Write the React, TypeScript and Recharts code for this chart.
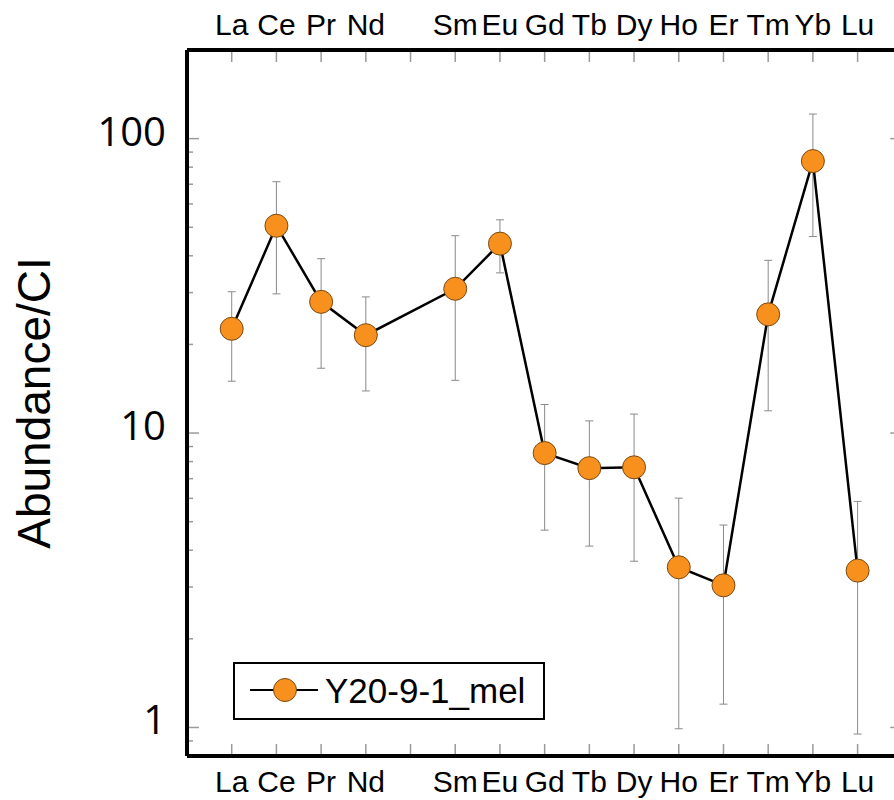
import React from 'react';
import { ComposedChart, Line, XAxis, YAxis, ErrorBar, Legend } from 'recharts';

// REE order (Pm slot kept empty so Nd -> Sm spacing matches the plot)
const elements = ['La', 'Ce', 'Pr', 'Nd', 'Pm', 'Sm', 'Eu', 'Gd', 'Tb', 'Dy', 'Ho', 'Er', 'Tm', 'Yb', 'Lu'];
const tickLabels = ['La', 'Ce', 'Pr', 'Nd', '', 'Sm', 'Eu', 'Gd', 'Tb', 'Dy', 'Ho', 'Er', 'Tm', 'Yb', 'Lu'];

const abundance = [22.6, 50.6, 27.9, 21.5, null, 30.9, 44.0, 8.55, 7.6, 7.65, 3.5, 3.04, 25.3, 83.9, 3.41];
const upper = [30.2, 71.4, 39.1, 29.0, null, 46.8, 53.0, 12.5, 11.0, 11.6, 6.01, 4.87, 38.6, 121.2, 5.86];
const lower = [15.0, 29.7, 16.6, 13.9, null, 15.1, 35.0, 4.68, 4.13, 3.67, 0.99, 1.2, 11.9, 46.5, 0.95];

const sampleName = 'Y20-9-1_mel';

const yMajor = [1, 10, 100];
const yTicks = [0.9, 1, 2, 3, 4, 5, 6, 7, 8, 9, 10, 20, 30, 40, 50, 60, 70, 80, 90, 100];
const xTicks = elements.map((_, i) => i + 1);

const ORANGE = '#F8901E';
const TICK_GREY = '#9a9a9a';
const FONT = '"Liberation Sans", Arial, Helvetica, sans-serif';

const data = elements.map((el, i) => {
  const v = abundance[i];
  return {
    el,
    pos: i + 1,
    v,
    err: v == null ? null : [v - (lower[i] as number), (upper[i] as number) - v],
  };
});

const XTick = (props: any) => {
  const { x, y, payload, side } = props;
  const label = tickLabels[payload.value - 1] ?? '';
  const dir = side === 'top' ? 1 : -1;
  return (
    <g>
      <line x1={x} x2={x} y1={y + dir * 2} y2={y + dir * 12} stroke={TICK_GREY} strokeWidth={1.5} />
      <text
        x={x}
        y={side === 'top' ? y - 15 : y + 36}
        textAnchor="middle"
        fontSize={30}
        fontFamily={FONT}
        fill="#000"
      >
        {label}
      </text>
    </g>
  );
};

const YTick = (props: any) => {
  const { x, y, payload, side } = props;
  const major = yMajor.includes(payload.value);
  const len = major ? 12 : 6;
  const dir = side === 'left' ? 1 : -1;
  return (
    <g>
      <line x1={x + dir * 2} x2={x + dir * len} y1={y} y2={y} stroke={TICK_GREY} strokeWidth={1.5} />
      {major && side === 'left' && (
        <text x={x - 21} y={y + 7} textAnchor="end" fontSize={40} fontFamily='"Open Sans", sans-serif' fill="#000">
          {payload.value}
        </text>
      )}
    </g>
  );
};

const AxisTitle = (props: any) => {
  const vb = props.viewBox || {};
  const cx = 50;
  const cy = vb.y + vb.height / 2;
  return (
    <text
      x={cx}
      y={cy}
      transform={`rotate(-90, ${cx}, ${cy})`}
      textAnchor="middle"
      fontSize={46}
      fontFamily={FONT}
      fill="#000"
    >
      Abundance/CI
    </text>
  );
};

const LegendBox = ({ payload }: any) => (
  <div
    style={{
      width: 308,
      height: 54,
      border: '2px solid #000',
      background: '#fff',
      display: 'flex',
      alignItems: 'center',
    }}
  >
    <svg width={90} height={54} style={{ flex: 'none' }}>
      <line x1={15} x2={83} y1={26} y2={26} stroke="#000" strokeWidth={2} />
      <circle cx={50} cy={26} r={11.5} fill={ORANGE} stroke="#7a4a14" strokeWidth={1} />
    </svg>
    <span style={{ fontSize: 35, fontFamily: FONT, color: '#000', lineHeight: '54px' }}>
      {payload && payload[0] ? payload[0].value : sampleName}
    </span>
  </div>
);

export default function App() {
  return (
    <div style={{ position: 'absolute', left: 0, top: 0, width: 894, height: 800, overflow: 'hidden', background: '#fff' }}>
      <ComposedChart
        width={910}
        height={800}
        data={data}
        margin={{ top: 49, left: 186, right: 6.7, bottom: 43 }}
      >
        <XAxis
          xAxisId="bottom"
          dataKey="pos"
          type="number"
          domain={[0, 16]}
          ticks={xTicks}
          allowDataOverflow
          height={1}
          tickSize={0}
          tickMargin={0}
          tickLine={false}
          axisLine={{ stroke: '#000', strokeWidth: 4 }}
          tick={(p: any) => <XTick {...p} side="bottom" />}
          interval={0}
        />
        <XAxis
          xAxisId="top"
          orientation="top"
          dataKey="pos"
          type="number"
          domain={[0, 16]}
          ticks={xTicks}
          allowDataOverflow
          height={1}
          tickSize={0}
          tickMargin={0}
          tickLine={false}
          axisLine={{ stroke: '#000', strokeWidth: 4 }}
          tick={(p: any) => <XTick {...p} side="top" />}
          interval={0}
        />
        <YAxis
          yAxisId="left"
          scale="log"
          type="number"
          domain={[0.8, 200]}
          ticks={yTicks}
          allowDataOverflow
          width={1}
          tickSize={0}
          tickMargin={0}
          tickLine={false}
          axisLine={{ stroke: '#000', strokeWidth: 4 }}
          tick={(p: any) => <YTick {...p} side="left" />}
          interval={0}
          label={<AxisTitle />}
        />
        <YAxis
          yAxisId="right"
          orientation="right"
          scale="log"
          type="number"
          domain={[0.8, 200]}
          ticks={yTicks}
          allowDataOverflow
          width={1}
          tickSize={0}
          tickMargin={0}
          tickLine={false}
          axisLine={{ stroke: '#000', strokeWidth: 4 }}
          tick={(p: any) => <YTick {...p} side="right" />}
          interval={0}
        />
        <Legend
          verticalAlign="middle"
          align="center"
          content={<LegendBox />}
          wrapperStyle={{ left: 233, top: 662, width: 312, height: 58 }}
        />
        <Line
          xAxisId="bottom"
          yAxisId="left"
          type="linear"
          dataKey="v"
          name={sampleName}
          stroke="#000"
          strokeWidth={2.5}
          connectNulls
          dot={{ r: 11.5, fill: ORANGE, stroke: '#7a4a14', strokeWidth: 1 }}
          activeDot={false}
          isAnimationActive={false}
        >
          <ErrorBar dataKey="err" direction="y" width={4} stroke="#8a8a8a" strokeWidth={1} />
        </Line>
      </ComposedChart>
    </div>
  );
}
